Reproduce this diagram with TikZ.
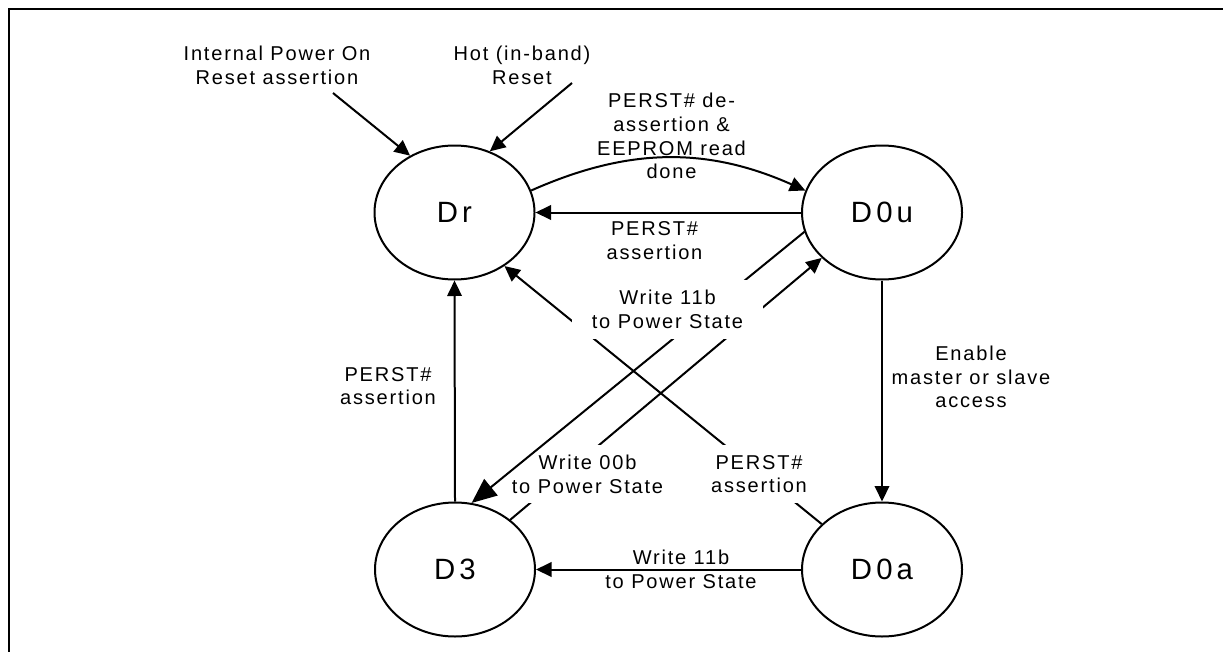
\documentclass[tikz,border=0pt]{standalone}
\usepackage{fontspec}
\setmainfont{Liberation Sans}[LetterSpace=9]
\newfontfamily\statefont{Liberation Sans}[LetterSpace=14]
\usetikzlibrary{arrows.meta,shapes.geometric}
\tikzset{
  state node/.style={
    ellipse,
    draw=black,
    line width=0.04cm,
    minimum width=3.2cm,
    minimum height=2.68cm,
    inner sep=0pt,
    font=\statefont\fontsize{16.7}{20}\selectfont
  },
  edge label/.style={align=center,inner sep=0pt,font=\fontsize{11.4}{13.5}\selectfont},
  gap label/.style={edge label,fill=white,inner xsep=0.4cm,inner ysep=0.2cm},
  state arrow/.style={-{Triangle[length=0.31cm,width=0.29cm]},line width=0.04cm},
  big arrow/.style={-{Triangle[length=0.5cm,width=0.42cm]},line width=0.04cm},
  frame line/.style={line width=0.05cm}
}

\begin{document}
\begin{tikzpicture}
  \useasboundingbox (0,0) rectangle (24.46,-13.02);
  \draw[frame line] (0.18,-14) -- (0.18,-0.18) -- (25,-0.18);

  \node[state node] (dr)  at (9.09,-4.25)   {Dr};
  \node[state node] (d0u) at (17.64,-4.25)  {D0u};
  \node[state node] (d3)  at (9.10,-11.39)  {D3};
  \node[state node] (d0a) at (17.64,-11.39) {D0a};

  \node[edge label] (porlbl) at (5.54,-1.30) {Internal Power On\\Reset assertion};
  \node[edge label] (hotlbl) at (10.44,-1.30) {Hot (in-band)\\Reset};
  \coordinate (porstart) at (6.66,-1.86);
  \coordinate (hotstart) at (11.44,-1.66);
  \draw[state arrow] (porstart) -- (dr.128);
  \draw[state arrow] (hotstart) -- (dr.60);

  \draw[state arrow] (dr.16) to[bend left=24] (d0u.164);
  \node[edge label] (donelbl) at (13.43,-2.72) {PERST\# de-\\assertion \&\\EEPROM read\\done};
  \draw[state arrow] (d0u.west) -- (dr.east);
  \node[edge label] (toplbl) at (13.09,-4.81) {PERST\#\\assertion};

  \draw[state arrow] (d3.north) -- (dr.south);
  \node[edge label] (leftlbl) at (7.76,-7.72) {PERST\#\\assertion};
  \draw[state arrow] (d0u.south) -- (d0a.north);
  \node[edge label] (enablelbl) at (19.42,-7.54) {Enable\\master or slave\\access};
  \draw[state arrow] (d0a.west) -- (d3.east);
  \node[edge label] (bottomlbl) at (13.62,-11.38) {Write 11b\\to Power State};

  \draw[state arrow] (d3.42) -- (d0u.217);
  \draw[state arrow] (d0a.143) -- (dr.313);
  \node[gap label] (w00lbl) at (11.75,-9.48) {Write 00b\\to Power State};
  \node[gap label] (lowlbl) at (15.18,-9.48) {PERST\#\\assertion};
  \draw[big arrow] (d0u.194) -- (d3.76);
  \node[gap label] (w11lbl) at (13.35,-6.19) {Write 11b\\to Power State};
\end{tikzpicture}
\end{document}
